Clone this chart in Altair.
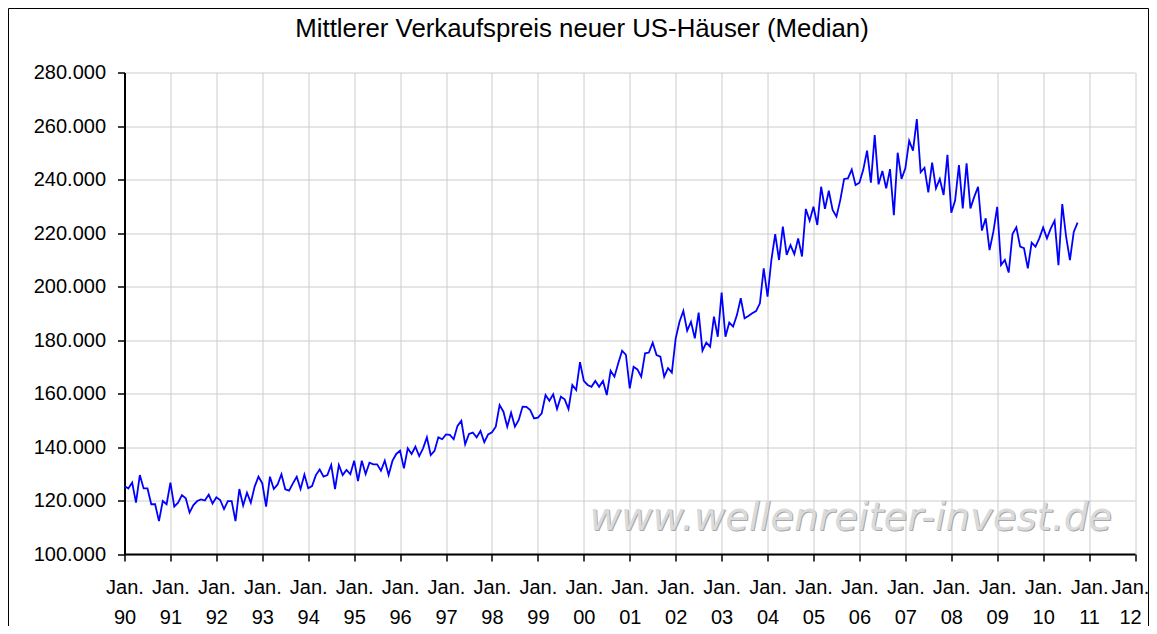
import altair as alt
import pandas as pd

# Median sales price of new US homes, monthly, in thousands of USD
p1990 = [125.4, 124.5, 126.7, 119.2, 129.5, 124.5, 124.5, 118.6, 118.6, 112.3, 119.8, 118.6]
p1991 = [126.7, 117.7, 119.2, 122.0, 120.8, 115.5, 118.3, 119.8, 120.4, 120.0, 122.2, 118.9]
p1992 = [121.2, 120.2, 116.8, 119.8, 119.8, 112.3, 124.3, 118.1, 122.9, 119.2, 125.2, 128.9]
p1993 = [126.4, 117.7, 128.9, 124.3, 126.0, 129.8, 124.2, 123.7, 126.4, 128.9, 124.3, 129.7]
p1994 = [124.6, 125.4, 129.5, 131.6, 128.9, 129.5, 133.3, 124.3, 133.3, 129.5, 131.4, 129.8]
p1995 = [134.9, 127.3, 134.9, 129.9, 134.1, 133.5, 133.5, 131.1, 134.9, 129.5, 134.8, 137.4]
p1996 = [138.6, 132.0, 139.5, 137.4, 140.1, 136.6, 139.5, 143.6, 137.0, 138.6, 143.6, 142.9]
p1997 = [144.7, 144.5, 142.9, 147.9, 149.8, 141.0, 144.9, 145.4, 143.6, 146.0, 141.8, 144.7]
p1998 = [145.5, 147.6, 155.7, 153.2, 147.6, 152.8, 147.6, 150.1, 155.1, 155.0, 153.8, 150.7]
p1999 = [151.0, 152.6, 159.4, 157.3, 159.7, 154.2, 158.8, 157.8, 154.2, 163.2, 161.3, 171.7]
p2000 = [164.7, 163.2, 162.5, 164.7, 162.5, 164.7, 159.4, 168.5, 166.3, 171.3, 176.0, 174.4]
p2001 = [161.9, 170.0, 169.0, 166.3, 175.0, 175.3, 179.0, 174.4, 173.8, 166.3, 169.5, 167.8]
p2002 = [180.6, 186.8, 190.9, 183.5, 186.8, 180.6, 190.2, 176.0, 179.0, 177.5, 188.7, 181.2]
p2003 = [197.7, 181.2, 186.5, 185.0, 189.3, 195.6, 188.1, 189.0, 190.0, 190.8, 193.7, 206.8]
p2004 = [196.2, 209.9, 219.6, 209.9, 222.4, 211.8, 215.5, 212.1, 218.0, 211.2, 229.0, 224.6]
p2005 = [229.8, 223.0, 237.3, 229.0, 235.8, 228.6, 226.1, 232.3, 240.2, 240.4, 243.7, 237.9]
p2006 = [238.8, 243.6, 250.8, 238.8, 256.6, 238.2, 243.2, 236.7, 243.9, 226.7, 250.0, 240.2]
p2007 = [244.2, 254.5, 250.8, 262.6, 242.7, 244.4, 235.2, 246.3, 236.7, 240.2, 234.2, 249.2]
p2008 = [227.6, 232.1, 245.4, 229.2, 246.0, 229.2, 233.5, 237.3, 220.9, 225.5, 213.6, 220.5]
p2009 = [229.8, 208.0, 209.9, 205.2, 219.6, 222.1, 214.9, 214.3, 206.8, 216.4, 214.9, 218.0]
p2010 = [222.1, 218.0, 221.7, 224.6, 208.0, 230.8, 218.6, 209.9, 220.4, 223.9]

series = [p1990, p1991, p1992, p1993, p1994, p1995, p1996, p1997, p1998, p1999, p2000,
          p2001, p2002, p2003, p2004, p2005, p2006, p2007, p2008, p2009, p2010]
prices = [v * 1000 for yr in series for v in yr]

year_ticks = list(range(0, 22 * 12 + 1, 12))          # Jan 90 ... Jan 12 (month index)
price_ticks = list(range(100000, 280001, 20000))

title_text = "Mittlerer Verkaufspreis neuer US-Häuser (Median)"
watermark_text = "www.wellenreiter-invest.de"

df = pd.DataFrame({"m": list(range(len(prices))), "price": prices})

W, H = 1010.5, 481.5
PAD_L, PAD_T, PAD_R, PAD_B = 116.5, 64.5, 14, 72
FONT = "Liberation Sans"

x_enc = alt.X(
    "m:Q",
    scale=alt.Scale(domain=[0, 264], nice=False, zero=False),
    axis=alt.Axis(
        values=year_ticks,
        labelExpr="['Jan.', format((90 + datum.value / 12) % 100, '02d')]",
        title=None,
        grid=True,
        gridColor="#CCCCCC",
        gridWidth=1,
        domainColor="black",
        domainWidth=2,
        tickColor="black",
        tickWidth=1.5,
        tickSize=7,
        labelFont=FONT,
        labelFontSize=20,
        labelColor="black",
        labelPadding=16,
        labelLineHeight=30,
        labelOffset={"condition": {"test": "datum.value == 264", "value": -5}, "value": 0},
        labelFlush=False,
        labelOverlap=False,
    ),
)
y_enc = alt.Y(
    "price:Q",
    scale=alt.Scale(domain=[100000, 280000], nice=False, zero=False),
    axis=alt.Axis(
        values=price_ticks,
        labelExpr="replace(format(datum.value, ','), ',', '.')",
        title=None,
        grid=True,
        gridColor="#CCCCCC",
        gridWidth=1,
        domainColor="black",
        domainWidth=2,
        tickColor="black",
        tickWidth=1.5,
        tickSize=7,
        labelFont=FONT,
        labelFontSize=20,
        labelColor="black",
        labelPadding=12,
        labelOverlap=False,
    ),
)

line = alt.Chart(df).mark_line(color="#0000FF", strokeWidth=1.8).encode(x=x_enc, y=y_enc)

one = pd.DataFrame({"t": [title_text]})
title = alt.Chart(one).mark_text(
    font=FONT, fontSize=25.8, color="black", align="center", baseline="alphabetic"
).encode(text="t:N", x=alt.value(457.5), y=alt.value(-35.5))

wm = pd.DataFrame({"t": [watermark_text]})
wm_shadow = alt.Chart(wm).mark_text(
    font="DejaVu Sans", fontStyle="italic", fontSize=38.5, color="#A8A8A8",
    align="right", baseline="alphabetic"
).encode(text="t:N", x=alt.value(988.5), y=alt.value(458.5))
wm_text = alt.Chart(wm).mark_text(
    font="DejaVu Sans", fontStyle="italic", fontSize=38.5, color="#DADADA",
    align="right", baseline="alphabetic"
).encode(text="t:N", x=alt.value(987.5), y=alt.value(457.5))

frame = alt.Chart(pd.DataFrame({"a": [0]})).mark_rect(
    fill="white", fillOpacity=0, stroke="black", strokeWidth=1
).encode(
    x=alt.value(-PAD_L + 0.5),
    x2=alt.value(W + PAD_R - 0.5),
    y=alt.value(-PAD_T + 0.5),
    y2=alt.value(H + PAD_B + 20),
)

chart = alt.layer(wm_shadow, wm_text, line, title, frame).properties(
    width=W,
    height=H,
    autosize=alt.AutoSizeParams(type="none"),
    padding={"left": PAD_L, "top": PAD_T, "right": PAD_R, "bottom": PAD_B},
    background="white",
).configure_view(strokeWidth=0)

chart.save("out.html", embed_options={"renderer": "svg", "actions": False})
